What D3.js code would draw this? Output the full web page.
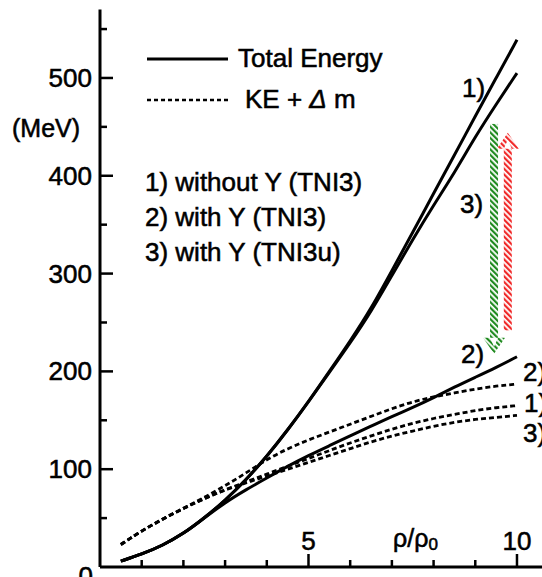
<!DOCTYPE html>
<html>
<head>
<meta charset="utf-8">
<script src="https://cdn.jsdelivr.net/npm/d3@7"></script>
<style>
  body { margin: 0; background: white; }
  text { font-family: "Liberation Sans", Arial, Helvetica, sans-serif; fill: #000; stroke: #000; stroke-width: 0.55px; }
</style>
</head>
<body>
<div id="container"></div>
<script>
// Energy per baryon vs density, total energy (solid) and KE + delta m (dashed)

const width = 542;
const height = 577;

// density rho/rho0
const xVals = [0.5, 1, 1.5, 2, 2.5, 3, 3.5, 4, 4.5, 5, 5.5, 6, 6.5, 7, 7.5, 8, 8.5, 9, 9.5, 10];

// total energy (MeV)
const total1 = [6, 13, 22, 34, 50, 68, 89, 113, 140, 169, 200, 231, 264, 303, 342, 382, 421, 461, 500, 539];
const total2 = [6, 13, 22, 34, 50, 66, 79, 91, 103, 114, 124, 134, 144, 154, 163, 173, 184, 194, 204, 215];
const total3 = [6, 13, 22, 34, 50, 68, 89, 113, 140, 169, 199, 229, 261, 298, 335, 370, 403, 440, 473, 505];

// KE + delta m (MeV)
const ke1 = [23, 37, 49, 60, 70, 79, 87, 95, 103, 111, 119, 127, 134, 141, 147, 152, 156, 160, 163, 165];
const ke2 = [23, 37, 49, 60, 71, 83, 96, 110, 121, 130, 138, 146, 154, 162, 169, 174, 178, 182, 185, 187];
const ke3 = [23, 37, 49, 60, 70, 79, 86, 93, 100, 107, 114, 121, 128, 134, 139, 144, 148, 151, 153, 155];

const yTicks = [0, 100, 200, 300, 400, 500];
const yMinor = [50, 150, 250, 350, 450, 550];
const xTicks = [1, 2, 3, 4, 6, 7, 8, 9];
const xMajor = [5, 10];

const legendItems = ["1) without Y (TNI3)", "2) with Y (TNI3)", "3) with Y (TNI3u)"];

// arrows: [x, yFrom, yTo]
const greenArrow = [9.45, 453, 218];
const redArrow = [9.78, 242, 444];

const x = d3.scaleLinear().domain([0, 10.6]).range([100, 542]);
const y = d3.scaleLinear().domain([0, 570]).range([567, 9.5]);

const svg = d3.select("#container")
    .append("svg")
    .attr("width", width)
    .attr("height", height)
    .style("background-color", "white");

// hatch patterns for the arrows
const defs = svg.append("defs");
function hatch(id, color) {
    const p = defs.append("pattern")
        .attr("id", id)
        .attr("patternUnits", "userSpaceOnUse")
        .attr("width", 4)
        .attr("height", 4)
        .attr("patternTransform", "rotate(-45)");
    p.append("rect").attr("width", 4).attr("height", 4).attr("fill", "white");
    p.append("rect").attr("width", 2.2).attr("height", 4).attr("fill", color);
}
hatch("hG", "#1f8a1f");
hatch("hR", "#f02828");

// y axis
svg.append("line")
    .attr("x1", x(0)).attr("x2", x(0))
    .attr("y1", y(0)).attr("y2", y(570))
    .attr("stroke", "black").attr("stroke-width", 3);

svg.selectAll(".ytick")
    .data(yTicks.filter(d => d > 0))
    .join("line")
    .attr("x1", x(0)).attr("x2", x(0) + 13)
    .attr("y1", d => y(d)).attr("y2", d => y(d))
    .attr("stroke", "black").attr("stroke-width", 2.5);

svg.selectAll(".yminor")
    .data(yMinor)
    .join("line")
    .attr("x1", x(0)).attr("x2", x(0) + 7)
    .attr("y1", d => y(d)).attr("y2", d => y(d))
    .attr("stroke", "black").attr("stroke-width", 2.5);

svg.selectAll(".ylab")
    .data(yTicks.filter(d => d > 0))
    .join("text")
    .attr("x", 92)
    .attr("y", d => y(d) + 9)
    .attr("text-anchor", "end")
    .style("font-size", "26px")
    .text(d => d);

svg.append("text")
    .attr("x", 93).attr("y", 585)
    .attr("text-anchor", "end")
    .style("font-size", "26px")
    .text("0");

svg.append("text")
    .attr("x", 12).attr("y", 137)
    .style("font-size", "25px")
    .text("(MeV)");

// x axis
svg.append("line")
    .attr("x1", x(0)).attr("x2", width)
    .attr("y1", y(0)).attr("y2", y(0))
    .attr("stroke", "black").attr("stroke-width", 3);

svg.selectAll(".xtick")
    .data(xTicks)
    .join("line")
    .attr("x1", d => x(d)).attr("x2", d => x(d))
    .attr("y1", y(0)).attr("y2", y(0) - 7)
    .attr("stroke", "black").attr("stroke-width", 2.5);

svg.selectAll(".xmajor")
    .data(xMajor)
    .join("line")
    .attr("x1", d => x(d)).attr("x2", d => x(d))
    .attr("y1", y(0)).attr("y2", y(0) - 13)
    .attr("stroke", "black").attr("stroke-width", 2.5);

svg.selectAll(".xlab")
    .data(xMajor)
    .join("text")
    .attr("x", d => x(d))
    .attr("y", 550)
    .attr("text-anchor", "middle")
    .style("font-size", "26px")
    .text(d => d);

const rho = svg.append("text")
    .attr("x", 393).attr("y", 547)
    .style("font-size", "25px");
rho.append("tspan").text("ρ/ρ");
rho.append("tspan").attr("dy", 3).style("font-size", "17px").text("0");

// curves
const line = d3.line()
    .x((d, i) => x(xVals[i]))
    .y(d => y(d))
    .curve(d3.curveBasis);

const curves = [
    { v: ke1, dash: "5,3" },
    { v: ke2, dash: "5,3" },
    { v: ke3, dash: "5,3" },
    { v: total2, dash: null },
    { v: total3, dash: null },
    { v: total1, dash: null }
];

svg.append("g")
    .selectAll("path")
    .data(curves)
    .join("path")
    .attr("d", d => line(d.v))
    .attr("fill", "none")
    .attr("stroke", "black")
    .attr("stroke-width", d => d.dash ? 2.8 : 3)
    .attr("stroke-dasharray", d => d.dash);

// legend
svg.append("line")
    .attr("x1", 147).attr("x2", 228).attr("y1", 59).attr("y2", 59)
    .attr("stroke", "black").attr("stroke-width", 3);
svg.append("text")
    .attr("x", 238).attr("y", 67)
    .style("font-size", "26px")
    .text("Total Energy");

svg.append("line")
    .attr("x1", 147).attr("x2", 228).attr("y1", 100).attr("y2", 100)
    .attr("stroke", "black").attr("stroke-width", 2.4)
    .attr("stroke-dasharray", "4,3");
const ke = svg.append("text")
    .attr("x", 245).attr("y", 108)
    .style("font-size", "26px");
ke.append("tspan").text("KE + ");
ke.append("tspan").style("font-style", "italic").text("Δ");
ke.append("tspan").text(" m");

svg.selectAll(".leg")
    .data(legendItems)
    .join("text")
    .attr("x", 145)
    .attr("y", (d, i) => 191 + i * 35)
    .style("font-size", "26px")
    .text(d => d);

// curve labels
const curveLabels = [
    { t: "1)", x: 462, y: 97 },
    { t: "3)", x: 460, y: 213 },
    { t: "2)", x: 461, y: 363 },
    { t: "2)", x: 523, y: 381 },
    { t: "1)", x: 524, y: 412 },
    { t: "3)", x: 523, y: 442 }
];
svg.selectAll(".clab")
    .data(curveLabels)
    .join("text")
    .attr("x", d => d.x)
    .attr("y", d => d.y)
    .style("font-size", "26px")
    .text(d => d.t);

// hatched arrows
function drawArrow(a, fillId) {
    const cx = x(a[0]);
    const y0 = y(a[1]);
    const y1 = y(a[2]);
    const dir = y1 > y0 ? 1 : -1;
    const head = 16;
    svg.append("rect")
        .attr("x", cx - 4)
        .attr("y", Math.min(y0, y1 - dir * head))
        .attr("width", 8)
        .attr("height", Math.abs(y1 - dir * head - y0))
        .attr("fill", `url(#${fillId})`);
    svg.append("path")
        .attr("d", `M${cx - 11},${y1 - dir * head} L${cx},${y1} L${cx + 11},${y1 - dir * head} L${cx + 4},${y1 - dir * head} L${cx},${y1 - dir * 7} L${cx - 4},${y1 - dir * head} Z`)
        .attr("fill", `url(#${fillId})`);
}
drawArrow(greenArrow, "hG");
drawArrow(redArrow, "hR");
</script>
</body>
</html>
